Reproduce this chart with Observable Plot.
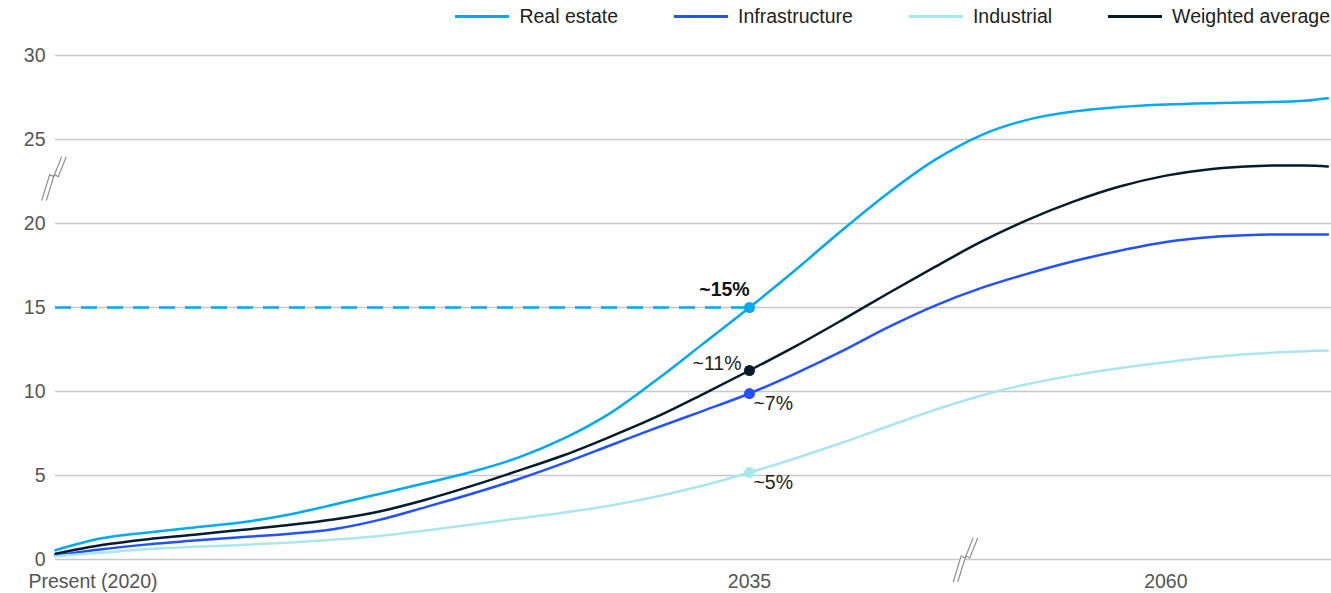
<!DOCTYPE html>
<html><head><meta charset="utf-8">
<script src="https://cdn.jsdelivr.net/npm/d3@7"></script>
<script src="https://cdn.jsdelivr.net/npm/@observablehq/plot@0.6"></script>
<style>
body{margin:0;background:#fff;font-family:"Liberation Sans",Arial,sans-serif;overflow:hidden;}
#legend{height:33px;display:flex;justify-content:flex-end;align-items:center;gap:56px;padding-right:1px;font-size:19.5px;color:#222;}
.item{display:flex;align-items:center;gap:10px;}
.sw{width:54px;height:3px;}
</style></head><body>
<div id="legend"></div>
<div id="chart"></div>
<script>
// timeline position: 0 = Present (2020) … 15 = 2035, then compressed after the axis break (24 = 2060)
const t = [0,1,2,3,4,5,6,7,8,9,10,11,12,13,14,15,16,17,18,19,20,21,22,23,24,25,26,27,27.5];
const realEstate     = [0.55,1.26,1.61,1.91,2.2,2.65,3.26,3.9,4.55,5.22,6.06,7.22,8.73,10.71,12.85,15.0,17.25,19.6,21.82,23.77,25.25,26.17,26.66,26.93,27.08,27.16,27.21,27.3,27.45];
const infrastructure = [0.24,0.61,0.9,1.13,1.33,1.52,1.8,2.36,3.12,3.91,4.78,5.75,6.8,7.85,8.85,9.88,11.08,12.4,13.83,15.1,16.15,17.0,17.75,18.38,18.9,19.2,19.33,19.35,19.35];
const industrial     = [0.2,0.41,0.62,0.76,0.86,1.0,1.18,1.4,1.72,2.09,2.44,2.8,3.22,3.75,4.4,5.18,6.03,6.95,7.93,8.9,9.75,10.43,10.96,11.39,11.74,12.05,12.26,12.4,12.44];
const weighted       = [0.34,0.86,1.21,1.47,1.76,2.04,2.38,2.86,3.56,4.38,5.28,6.22,7.32,8.5,9.85,11.25,12.7,14.25,15.85,17.4,18.9,20.2,21.3,22.2,22.85,23.25,23.43,23.45,23.4];

const seriesNames  = ["Real estate","Infrastructure","Industrial","Weighted average"];
const seriesColors = ["#00a9f4","#2251ff","#aae6f0","#051c2c"];
const seriesValues = [realEstate, infrastructure, industrial, weighted];

const yTicks = [0,5,10,15,20,25,30];
const xTickPos = [0,15,24];
const xTickLabels = ["Present (2020)","2035","2060"];

const markerT = 15;
const markerLabels = ["~15%","~7%","~5%","~11%"];
const yBreakValue = 22.7;   // break marker on the y axis
const xBreakPos = 19.7;     // break marker on the x axis

const FONT = "'Liberation Sans', Arial, sans-serif";
const FS = 19.5;

// legend
const leg = document.getElementById("legend");
seriesNames.forEach((n,i)=>{
  const it=document.createElement("div");it.className="item";
  const sw=document.createElement("div");sw.className="sw";sw.style.background=seriesColors[i];
  const tx=document.createElement("span");tx.textContent=n;
  it.append(sw,tx);leg.append(it);
});

const rows = [];
seriesNames.forEach((n,i)=>t.forEach((x,j)=>rows.push({series:n,t:x,v:seriesValues[i][j]})));
const dots = seriesNames.map((n,i)=>({series:n,t:markerT,v:seriesValues[i][t.indexOf(markerT)],label:markerLabels[i]}));
const color = {domain:seriesNames, range:seriesColors};

function breakMark(getCenter){
  return (index, scales) => {
    const [cx,cy] = getCenter(scales);
    const shape = [[-11,23],[-3,-3],[1,-1],[9,-21]];
    const g = d3.create("svg:g");
    const left = shape.map(([a,b])=>[cx+a-2.3,cy+b]);
    const right = shape.map(([a,b])=>[cx+a+2.3,cy+b]);
    g.append("path").attr("d", d3.line()(left.concat(right.slice().reverse()))+"Z").attr("fill","#fff");
    for (const p of [left,right]) g.append("path").attr("d", d3.line()(p)).attr("fill","none").attr("stroke","#8f8f8f").attr("stroke-width",1.2);
    return g.node();
  };
}

const chart = Plot.plot({
  width:1331, height:560,
  marginLeft:55, marginRight:0, marginTop:22, marginBottom:34,
  x:{domain:[0,27.58], axis:null},
  y:{domain:[0,30], axis:null},
  color,
  style:{fontFamily:FONT, fontSize:FS+"px", background:"#fff"},
  marks:[
    Plot.gridY(yTicks,{stroke:"#c8c8c8", strokeOpacity:1, strokeWidth:1.3}),
    Plot.axisY(yTicks,{tickSize:0, tickPadding:10, label:null, fill:"#555", fontSize:FS}),
    Plot.text(xTickPos.slice(0,1),{x:d=>d, y:0, text:()=>xTickLabels[0], dy:22, dx:-27, textAnchor:"start", fill:"#555", fontSize:FS}),
    Plot.text(xTickPos.slice(1),{x:d=>d, y:0, text:(d,i)=>xTickLabels[i+1], dy:22, textAnchor:"middle", fill:"#555", fontSize:FS}),
    Plot.ruleY([dots[0]],{x1:0, x2:"t", y:"v", stroke:seriesColors[0], strokeWidth:2.5, strokeDasharray:"16,10"}),
    Plot.line(rows,{x:"t", y:"v", z:"series", stroke:"series", strokeWidth:2.5, curve:"catmull-rom"}),
    Plot.dot(dots,{x:"t", y:"v", fill:"series", r:5.5}),
    Plot.text([dots[0]],{x:"t", y:"v", text:"label", dy:-18, dx:-25, fontWeight:"bold", fill:"#111", fontSize:FS}),
    Plot.text([dots[3]],{x:"t", y:"v", text:"label", dy:-7, dx:-8, textAnchor:"end", fill:"#222", fontSize:FS}),
    Plot.text([dots[1]],{x:"t", y:"v", text:"label", dy:10, dx:4, textAnchor:"start", fill:"#222", fontSize:FS}),
    Plot.text([dots[2]],{x:"t", y:"v", text:"label", dy:10, dx:4, textAnchor:"start", fill:"#222", fontSize:FS}),
    breakMark(s=>[s.x(0), s.y(yBreakValue)]),
    breakMark(s=>[s.x(xBreakPos), s.y(0)])
  ]
});
document.getElementById("chart").append(chart);
</script>
</body></html>
